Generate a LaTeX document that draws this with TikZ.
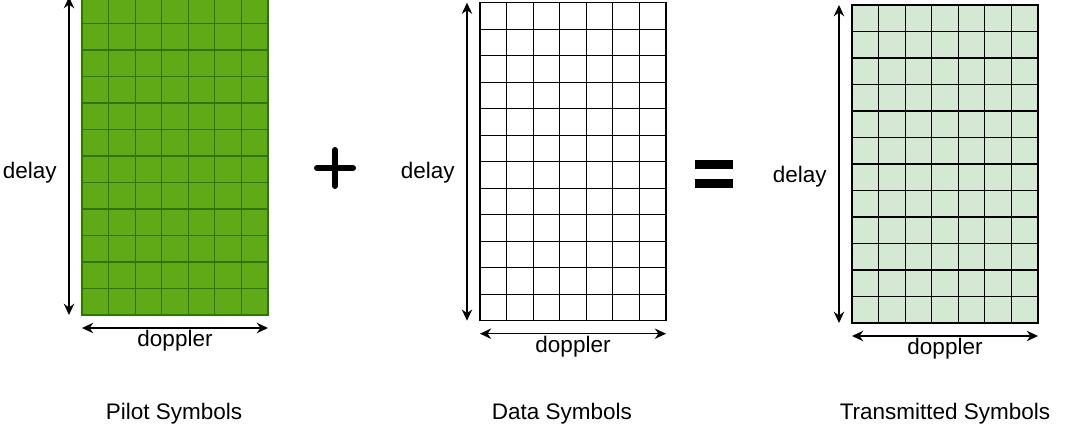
\documentclass[tikz,border=0pt]{standalone}
\usepackage{fontspec}
\setmainfont{Liberation Sans}
\usetikzlibrary{arrows.meta,positioning}
\definecolor{pilotfill}{HTML}{60A917}
\definecolor{pilotline}{HTML}{2D7600}
\definecolor{txfill}{HTML}{D5E8D4}

\begin{document}
\begin{tikzpicture}[x=0.25mm,y=0.25mm,
    frame/.style={draw,line width=0.9pt,minimum width=46.5mm,minimum height=79.5mm,inner sep=0pt,outer sep=0pt},
    cell/.style={line width=0.9pt},
    dimarrow/.style={line width=1pt,{Stealth[length=2.8mm,width=2.6mm,inset=0.9mm]}-{Stealth[length=2.8mm,width=2.6mm,inset=0.9mm]}},
    lbl/.style={font=\fontsize{16}{19}\selectfont,inner sep=0pt}]
  \useasboundingbox (0,0) rectangle (1067,429);

  % the three delay-doppler grids
  \node[frame,draw=pilotline,fill=pilotfill] (pilot) at (175,273) {};
  \node[frame,fill=white] (data) at (573,267.3) {};
  \node[frame,fill=txfill] (tx) at (945,265) {};

  \foreach \g/\c/\dy in {pilot/pilotline/-17, data/black/-11, tx/black/-13} {
    \begin{scope}[shift={(\g.south west)}]
      \foreach \i in {1,...,6} \draw[cell,draw=\c] (\i*186/7,0) -- ++(0,318);
      \foreach \j in {1,...,11} \draw[cell,draw=\c] (0,\j*26.5) -- ++(186,0);
    \end{scope}
    \draw[cell,draw=\c] (\g.south west) rectangle (\g.north east);
    % axes
    \draw[dimarrow] ([xshift=-3.25mm]\g.north west) -- ([xshift=-3.25mm]\g.south west);
    \draw[dimarrow] ([yshift=-3.25mm]\g.south west) -- ([yshift=-3.25mm]\g.south east);
    \node[lbl,anchor=east] (\g-delay) at ([xshift=-6.25mm,yshift=\dy*0.25mm]\g.west) {delay};
    \node[lbl] (\g-doppler) at ([yshift=-6.5mm]\g.south) {doppler};
  }

  % plus and equals
  \draw[line width=4.3pt,line cap=round] (317,261) -- (353,261) (335,243) -- (335,279);
  \fill (695,259.5) rectangle (733,268.5);
  \fill (695,240.5) rectangle (733,249.5);

  \node[lbl] (pilot-name) at (174,15) {Pilot Symbols};
  \node[lbl] (data-name) at (562,15) {Data Symbols};
  \node[lbl] (tx-name) at (945,15) {Transmitted Symbols};
\end{tikzpicture}
\end{document}
